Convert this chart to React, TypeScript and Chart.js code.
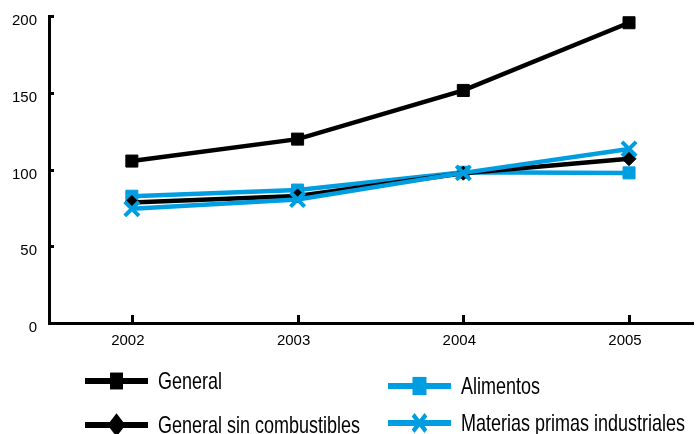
import { useEffect, useRef } from 'react';
import { Chart, registerables } from 'chart.js';

Chart.register(...registerables);

const years = [2002, 2003, 2004, 2005];
const general = [105.5, 119.8, 151.5, 195.6];
const generalSinComb = [78.5, 82.8, 97.6, 107.0];
const alimentos = [82.6, 86.6, 98.2, 97.8];
const materias = [74.4, 80.4, 97.8, 113.4];
const yTickValues = [0, 50, 100, 150, 200];
const seriesLabels = ['General', 'General sin combustibles', 'Alimentos', 'Materias primas industriales'];

const BLACK = '#000000';
const BLUE = '#009ee0';
const FONT = '"Liberation Sans", Arial, sans-serif';

const toPoints = (vals: number[]) => years.map((x, i) => ({ x, y: vals[i] }));

const legendItems = [
  { label: seriesLabels[0], color: BLACK, style: 'rect', radius: 6.5, x: 85, y: 381 },
  { label: seriesLabels[1], color: BLACK, style: 'rectRot', radius: 9, x: 85, y: 425 },
  { label: seriesLabels[2], color: BLUE, style: 'rect', radius: 7, x: 388, y: 386 },
  { label: seriesLabels[3], color: BLUE, style: 'crossRot', radius: 9, x: 388, y: 423 },
];

function drawMarker(ctx: CanvasRenderingContext2D, style: string, r: number, x: number, y: number) {
  ctx.beginPath();
  if (style === 'rect') {
    ctx.rect(x - r, y - r, 2 * r, 2 * r);
    ctx.fill();
  } else if (style === 'rectRot') {
    ctx.moveTo(x, y - r);
    ctx.lineTo(x + r, y);
    ctx.lineTo(x, y + r);
    ctx.lineTo(x - r, y);
    ctx.closePath();
    ctx.fill();
  } else {
    const d = r * Math.SQRT1_2;
    ctx.moveTo(x - d, y - d);
    ctx.lineTo(x + d, y + d);
    ctx.moveTo(x - d, y + d);
    ctx.lineTo(x + d, y - d);
    ctx.stroke();
  }
}

const decorPlugin = {
  id: 'decor',
  afterDraw(chart: any) {
    const ctx = chart.ctx as CanvasRenderingContext2D;
    const xs = chart.scales.x;
    const ys = chart.scales.y;
    const area = chart.chartArea;
    ctx.save();
    ctx.strokeStyle = BLACK;
    ctx.lineWidth = 3;
    years.forEach((yr) => {
      const px = Math.round(xs.getPixelForValue(yr)) + 0.5;
      ctx.beginPath();
      ctx.moveTo(px, area.bottom);
      ctx.lineTo(px, area.bottom - 8);
      ctx.stroke();
    });
    yTickValues.forEach((v) => {
      const py = Math.round(ys.getPixelForValue(v)) + 0.5;
      ctx.beginPath();
      ctx.moveTo(area.left, py);
      ctx.lineTo(area.left + 5, py);
      ctx.stroke();
    });
    legendItems.forEach((it) => {
      ctx.save();
      ctx.translate(0, it.y);
      ctx.scale(1, 1.3);
      ctx.strokeStyle = it.color;
      ctx.fillStyle = it.color;
      ctx.lineWidth = 4.5;
      ctx.beginPath();
      ctx.moveTo(it.x, 0);
      ctx.lineTo(it.x + 63, 0);
      ctx.stroke();
      ctx.lineWidth = 4;
      drawMarker(ctx, it.style, it.radius, it.x + 31.5, 0);
      ctx.fillStyle = BLACK;
      ctx.font = `18px ${FONT}`;
      ctx.textBaseline = 'middle';
      ctx.textAlign = 'left';
      ctx.fillText(it.label, it.x + 73, 1);
      ctx.restore();
    });
    ctx.restore();
  },
};

export default function App() {
  const ref = useRef<HTMLCanvasElement | null>(null);
  useEffect(() => {
    if (!ref.current) return;
    const common = { tension: 0, fill: false, borderWidth: 4.5 };
    const chart = new Chart(ref.current, {
      type: 'line',
      data: {
        datasets: [
          {
            ...common,
            label: seriesLabels[0],
            data: toPoints(general),
            borderColor: BLACK,
            backgroundColor: BLACK,
            pointStyle: 'rect',
            pointRadius: 8.5,
            pointBorderWidth: 1,
            order: 4,
          },
          {
            ...common,
            label: seriesLabels[1],
            data: toPoints(generalSinComb),
            borderColor: BLACK,
            backgroundColor: BLACK,
            pointStyle: 'rectRot',
            pointRadius: 7,
            pointBorderWidth: 1,
            order: 2,
          },
          {
            ...common,
            label: seriesLabels[2],
            data: toPoints(alimentos),
            borderColor: BLUE,
            backgroundColor: BLUE,
            pointStyle: 'rect',
            pointRadius: 8.5,
            pointBorderWidth: 1,
            order: 3,
          },
          {
            ...common,
            label: seriesLabels[3],
            data: toPoints(materias),
            borderColor: BLUE,
            backgroundColor: BLUE,
            pointStyle: 'crossRot',
            pointRadius: 10,
            pointBorderWidth: 4,
            order: 1,
          },
        ] as any,
      },
      options: {
        responsive: false,
        animation: false,
        layout: { autoPadding: false, padding: { left: 0, right: 4, top: 16, bottom: 0 } },
        plugins: { legend: { display: false }, tooltip: { enabled: false } },
        scales: {
          x: {
            type: 'linear',
            min: 2001.5,
            max: 2005.386,
            afterBuildTicks: (scale: any) => {
              scale.ticks = years.map((v) => ({ value: v }));
            },
            afterFit: (scale: any) => {
              scale.height = 111;
              scale.paddingLeft = 0;
              scale.paddingRight = 0;
            },
            grid: { display: false, drawTicks: false, tickLength: 0 },
            border: { display: true, color: BLACK, width: 3 },
            ticks: {
              color: BLACK,
              font: { family: FONT, size: 15 },
              padding: 9,
              labelOffset: -4,
              maxRotation: 0,
              autoSkip: false,
              callback: (v: any) => String(v),
            },
          },
          y: {
            min: 0,
            max: 200,
            afterBuildTicks: (scale: any) => {
              scale.ticks = yTickValues.map((v) => ({ value: v }));
            },
            afterFit: (scale: any) => {
              scale.width = 49;
              scale.paddingTop = 0;
              scale.paddingBottom = 0;
            },
            grid: { display: false, drawTicks: false, tickLength: 0 },
            border: { display: true, color: BLACK, width: 3 },
            ticks: {
              color: BLACK,
              font: { family: FONT, size: 15 },
              padding: 12,
              labelOffset: 5,
              callback: (v: any) => String(v),
            },
          },
        },
      },
      plugins: [decorPlugin],
    });
    return () => chart.destroy();
  }, []);
  return (
    <div style={{ position: 'fixed', left: 0, top: 0, width: 697, height: 434, background: '#fff' }}>
      <canvas ref={ref} width={697} height={434} />
    </div>
  );
}
